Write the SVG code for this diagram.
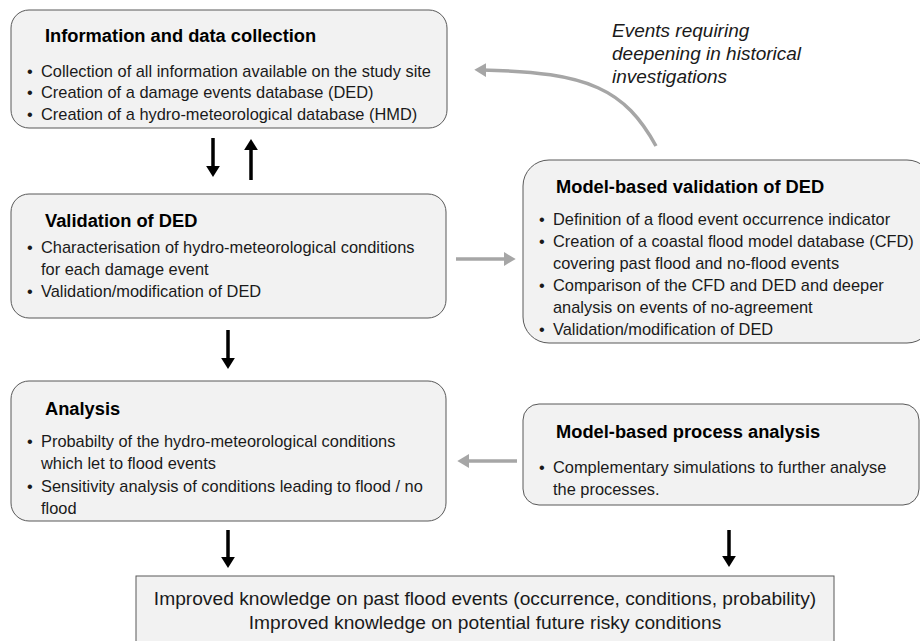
<svg xmlns="http://www.w3.org/2000/svg" width="920" height="641" viewBox="0 0 920 641">
<defs>
<style>
.box{fill:#f2f2f2;stroke:#595959;stroke-width:1}
.t{font-family:"Liberation Sans",Arial,sans-serif;font-weight:bold;font-size:18.3px;fill:#000}
.b{font-family:"Liberation Sans",Arial,sans-serif;font-size:16.4px;fill:#1a1a1a}
.c{font-family:"Liberation Sans",Arial,sans-serif;font-size:19.2px;fill:#1a1a1a;text-anchor:middle}
.i{font-family:"Liberation Sans",Arial,sans-serif;font-style:italic;font-size:19px;fill:#1a1a1a}
.k{stroke:#000;stroke-width:3.5;fill:none}
.g{stroke:#a6a6a6;stroke-width:3.5;fill:none}
</style>
<marker id="ak" markerWidth="4" markerHeight="4" refX="1.2" refY="2" orient="auto" markerUnits="strokeWidth" viewBox="0 0 4 4"><path d="M0,0 L3.2,2 L0,4 z" fill="#000"/></marker>
<marker id="ag" markerWidth="4" markerHeight="4" refX="1.2" refY="2" orient="auto" markerUnits="strokeWidth" viewBox="0 0 4 4"><path d="M0,0 L3.4,2 L0,4 z" fill="#a6a6a6"/></marker>
</defs>

<g id="connectors">
<line class="k" x1="213" y1="138" x2="213" y2="170" marker-end="url(#ak)"/>
<line class="k" x1="251" y1="180" x2="251" y2="146" marker-end="url(#ak)"/>
<line class="k" x1="228" y1="330" x2="228" y2="362" marker-end="url(#ak)"/>
<line class="k" x1="228" y1="530" x2="228" y2="561" marker-end="url(#ak)"/>
<line class="k" x1="729" y1="530" x2="729" y2="560" marker-end="url(#ak)"/>
<line class="g" x1="456" y1="259" x2="508" y2="259" marker-end="url(#ag)"/>
<line class="g" x1="517" y1="461" x2="465" y2="461" marker-end="url(#ag)"/>
<path class="g" d="M656,146 C625,90 590,72 482,70" marker-end="url(#ag)"/>
</g>

<g id="label-events">
<text class="i" x="612" y="37">Events requiring</text>
<text class="i" x="612" y="60">deepening in historical</text>
<text class="i" x="612" y="83">investigations</text>
</g>

<g id="node-info">
<rect class="box" x="11" y="10" width="436" height="118" rx="18"/>
<text class="t" x="45" y="42">Information and data collection</text>
<text class="b" x="27" y="77">•</text><text class="b" x="41" y="77">Collection of all information available on the study site</text>
<text class="b" x="27" y="98">•</text><text class="b" x="41" y="98">Creation of a damage events database (DED)</text>
<text class="b" x="27" y="120">•</text><text class="b" x="41" y="120">Creation of a hydro-meteorological database (HMD)</text>
</g>

<g id="node-validation">
<rect class="box" x="11" y="194" width="435" height="124" rx="18"/>
<text class="t" x="45" y="227">Validation of DED</text>
<text class="b" x="27" y="253">•</text><text class="b" x="41" y="253">Characterisation of hydro-meteorological conditions</text>
<text class="b" x="41" y="275">for each damage event</text>
<text class="b" x="27" y="297">•</text><text class="b" x="41" y="297">Validation/modification of DED</text>
</g>

<g id="node-model-validation">
<rect class="box" x="523" y="160" width="410" height="183" rx="26"/>
<text class="t" x="556" y="193">Model-based validation of DED</text>
<text class="b" x="539" y="225">•</text><text class="b" x="553" y="225">Definition of a flood event occurrence indicator</text>
<text class="b" x="539" y="247">•</text><text class="b" x="553" y="247">Creation of a coastal flood model database (CFD)</text>
<text class="b" x="553" y="269">covering past flood and no-flood events</text>
<text class="b" x="539" y="291">•</text><text class="b" x="553" y="291">Comparison of the CFD and DED and deeper</text>
<text class="b" x="553" y="313">analysis on events of no-agreement</text>
<text class="b" x="539" y="335">•</text><text class="b" x="553" y="335">Validation/modification of DED</text>
</g>

<g id="node-analysis">
<rect class="box" x="11" y="381" width="435" height="140" rx="18"/>
<text class="t" x="45" y="415">Analysis</text>
<text class="b" x="27" y="447">•</text><text class="b" x="41" y="447">Probabilty of the hydro-meteorological conditions</text>
<text class="b" x="41" y="469">which let to flood events</text>
<text class="b" x="27" y="492">•</text><text class="b" x="41" y="492">Sensitivity analysis of conditions leading to flood / no</text>
<text class="b" x="41" y="514">flood</text>
</g>

<g id="node-process">
<rect class="box" x="523" y="404" width="396" height="101" rx="16"/>
<text class="t" x="556" y="438">Model-based process analysis</text>
<text class="b" x="539" y="473">•</text><text class="b" x="553" y="473">Complementary simulations to further analyse</text>
<text class="b" x="553" y="495">the processes.</text>
</g>

<g id="node-result">
<rect class="box" x="136" y="576" width="698" height="80"/>
<text class="c" x="485" y="605">Improved knowledge on past flood events (occurrence, conditions, probability)</text>
<text class="c" x="485" y="629">Improved knowledge on potential future risky conditions</text>
</g>
</svg>
